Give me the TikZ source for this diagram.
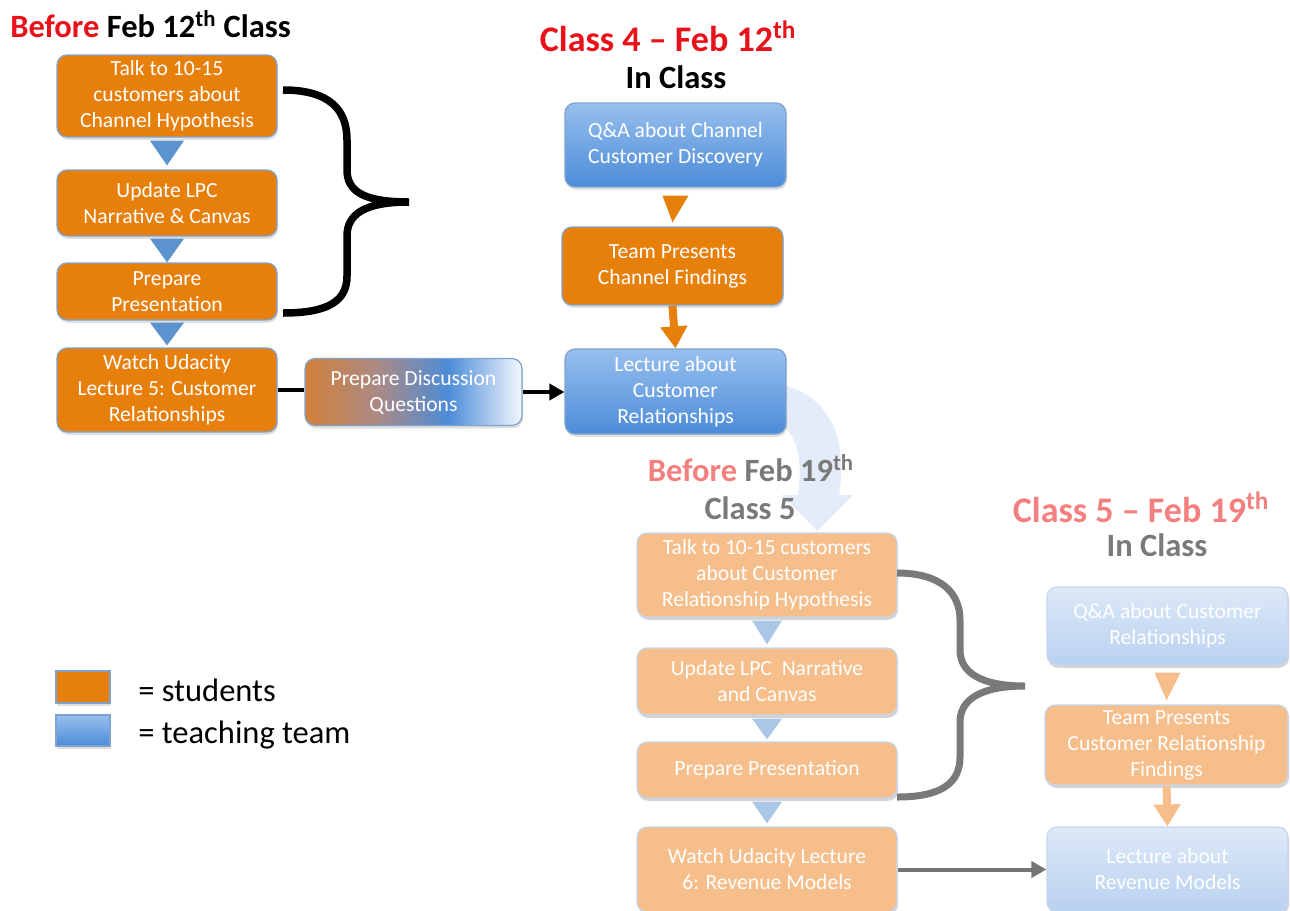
\documentclass[tikz,border=0pt]{standalone}
\usepackage{fontspec}
\setmainfont{Carlito}
\usetikzlibrary{arrows.meta,shadows,calc}

\definecolor{studorange}{HTML}{E77F0B}
\definecolor{studpale}{HTML}{F5BE8B}
\definecolor{teachtop}{HTML}{97BFEE}
\definecolor{teachbot}{HTML}{4C8CD8}
\definecolor{paletop}{HTML}{DDE9F8}
\definecolor{palebot}{HTML}{B9D1F0}
\definecolor{boxedge}{HTML}{7FA3CF}
\definecolor{paleedge}{HTML}{C5D7EE}
\definecolor{tribl}{HTML}{5B93CF}
\definecolor{tripale}{HTML}{ABC7E7}
\definecolor{titlered}{HTML}{E8131A}
\definecolor{titlepink}{HTML}{F47F7F}
\definecolor{titlegray}{HTML}{7A7A7A}
\definecolor{bigarrow}{HTML}{E3ECF8}
\definecolor{discorange}{HTML}{D2813A}
\definecolor{discmid}{HTML}{A98A86}
\definecolor{discwhite}{HTML}{F4F8FC}

\pgfdeclarehorizontalshading{discshade}{100bp}{color(0bp)=(discorange); color(25bp)=(discorange); color(42bp)=(discmid); color(58bp)=(teachbot); color(75bp)=(discwhite); color(100bp)=(discwhite)}

\newcommand\taskfont{\fontsize{12.3}{14.8}\selectfont}
\newcommand\headfont{\fontsize{18.5}{22}\selectfont\bfseries}

\tikzset{
  taskbox/.style={rounded corners=0.2cm, draw=boxedge, line width=0.7pt, text=white,
    align=center, font=\taskfont, inner sep=0pt,
    drop shadow={opacity=0.25, shadow xshift=0.6pt, shadow yshift=-1.6pt}},
  student/.style={taskbox, fill=studorange},
  teacher/.style={taskbox, top color=teachtop, bottom color=teachbot},
  palestudent/.style={taskbox, draw=paleedge, fill=studpale,
    drop shadow={opacity=0.12, shadow xshift=0.6pt, shadow yshift=-1.6pt}},
  paleteacher/.style={taskbox, draw=paleedge, top color=paletop, bottom color=palebot,
    drop shadow={opacity=0.12, shadow xshift=0.6pt, shadow yshift=-1.6pt}},
  heading/.style={font=\headfont, inner sep=0pt},
  bigheading/.style={heading, font=\fontsize{20.5}{24}\selectfont\bfseries},
  legendtext/.style={font=\fontsize{18.5}{22}\selectfont, anchor=west, inner sep=0pt},
  linkarrow/.style={line width=0.08cm, -{Triangle[width=0.32cm,length=0.3cm]}},
  bracket/.style={line width=0.15cm, line cap=butt},
}

\begin{document}
\begin{tikzpicture}[x=0.02cm,y=-0.02cm]
\useasboundingbox (0,0) rectangle (1290,910);

% pale arrow from class 4 to the next week
\fill [bigarrow] (786,386) .. controls (830,398) and (848,440) .. (839,495) -- (853,495) -- (817,531) -- (782,495) -- (798,495) .. controls (803,462) and (797,440) .. (786,428) -- cycle;

% headings
\node [heading, anchor=west] (hbefore) at (10,24) {\textcolor{titlered}{Before} Feb 12\textsuperscript{th} Class};
\node [bigheading, text=titlered] (hclass) at (668,36) {Class 4 – Feb 12\textsuperscript{th}};
\node [heading] (hin) at (676,77) {In Class};
\node [heading, text=titlegray] (hbefore2) at (751,468) {\textcolor{titlepink}{Before} Feb 19\textsuperscript{th}};
\node [heading, text=titlegray] (hclass5) at (750,508) {Class 5};
\node [bigheading, text=titlepink] (hclass2) at (1141,507) {Class 5 – Feb 19\textsuperscript{th}};
\node [heading, text=titlegray] (hin2) at (1157,545) {In Class};

% before feb 12
\node [student, minimum width=4.4cm, minimum height=1.64cm] (talk) at (167,96) {Talk to 10-15\\customers about\\Channel Hypothesis};
\node [student, minimum width=4.4cm, minimum height=1.32cm] (update) at (167,203) {Update LPC\\Narrative \& Canvas};
\node [student, minimum width=4.4cm, minimum height=1.14cm] (prep) at (167,291.5) {Prepare\\Presentation};
\node [student, minimum width=4.4cm, minimum height=1.68cm] (watch) at (167,390) {Watch Udacity\\Lecture 5: Customer\\Relationships};
\node [taskbox, shading=discshade, minimum width=4.34cm, minimum height=1.34cm] (disc) at (413.5,392) {Prepare Discussion\\Questions};

\fill [tribl] ($(talk.south)+(-17,3)$) -- ($(talk.south)+(17,3)$) -- ($(update.north)+(0,-4)$) -- cycle;
\fill [tribl] ($(update.south)+(-17,2)$) -- ($(update.south)+(17,2)$) -- (prep.north) -- cycle;
\fill [tribl] ($(prep.south)+(-17,2)$) -- ($(prep.south)+(17,2)$) -- ($(watch.north)+(0,-2)$) -- cycle;

\draw [line width=0.08cm] (watch.east) -- (watch.east -| disc.west);

% class 4
\node [teacher, minimum width=4.42cm, minimum height=1.68cm] (qa) at (675.5,145) {Q\&A about Channel\\Customer Discovery};
\node [student, minimum width=4.42cm, minimum height=1.56cm] (team) at (672.5,266) {Team Presents\\Channel Findings};
\node [teacher, minimum width=4.42cm, minimum height=1.70cm] (lect) at (675.5,391.5) {Lecture about\\Customer\\Relationships};

\fill [studorange] ($(qa.south)+(-13,8)$) -- ($(qa.south)+(13,8)$) -- ($(team.north)+(0,-4)$) -- cycle;
\draw [line width=0.16cm, studorange, -{Triangle[width=0.52cm,length=0.44cm]}] (team.south) -- (lect.north);
\draw [linkarrow] (disc.east) -- (disc.east -| lect.west);

\draw [bracket] (283,90) .. controls (330,90) and (347,110) .. (347,140) -- (347,170) .. controls (347,192) and (365,202) .. (409,202) .. controls (365,202) and (347,214) .. (347,236) -- (347,276) .. controls (347,300) and (330,313) .. (283,313);

% before feb 19
\node [palestudent, minimum width=5.2cm, minimum height=1.68cm] (talk2) at (767,575) {Talk to 10-15 customers\\about Customer\\Relationship Hypothesis};
\node [palestudent, minimum width=5.2cm, minimum height=1.34cm] (update2) at (767,681.5) {Update LPC~ Narrative\\and Canvas};
\node [palestudent, minimum width=5.2cm, minimum height=1.12cm] (prep2) at (767,770) {Prepare Presentation};
\node [palestudent, minimum width=5.2cm, minimum height=1.70cm] (watch2) at (767,869.5) {Watch Udacity Lecture\\6: Revenue Models};

\fill [tripale] ($(talk2.south)+(-15,3)$) -- ($(talk2.south)+(15,3)$) -- ($(update2.north)+(0,-3)$) -- cycle;
\fill [tripale] ($(update2.south)+(-15,3)$) -- ($(update2.south)+(15,3)$) -- ($(prep2.north)+(0,-2)$) -- cycle;
\fill [tripale] ($(prep2.south)+(-15,3)$) -- ($(prep2.south)+(15,3)$) -- ($(watch2.north)+(0,-3)$) -- cycle;

% class 5
\node [paleteacher, minimum width=4.82cm, minimum height=1.56cm] (qa2) at (1167.5,626) {Q\&A about Customer\\Relationships};
\node [palestudent, minimum width=4.86cm, minimum height=1.60cm] (team2) at (1166.5,745) {Team Presents\\Customer Relationship\\Findings};
\node [paleteacher, minimum width=4.82cm, minimum height=1.70cm] (lect2) at (1167.5,869.5) {Lecture about\\Revenue Models};

\fill [studpale] ($(qa2.south)+(-13,7)$) -- ($(qa2.south)+(13,7)$) -- ($(team2.north)+(0,-4)$) -- cycle;
\draw [line width=0.16cm, studpale, -{Triangle[width=0.52cm,length=0.44cm]}] (team2.south) -- (lect2.north);
\draw [linkarrow, titlegray!95!black] (watch2.east) -- (watch2.east -| lect2.west);

\draw [bracket, gray!95!black, line width=0.14cm] (897,573) .. controls (940,573) and (960,592) .. (960,620) -- (960,650) .. controls (960,672) and (980,686) .. (1025,686) .. controls (980,686) and (960,700) .. (960,722) -- (960,757) .. controls (960,784) and (940,797) .. (897,797);

% legend
\node [taskbox, rounded corners=0pt, fill=studorange, minimum width=1.08cm, minimum height=0.64cm] (keystud) at (83,687) {};
\node [taskbox, rounded corners=0pt, top color=teachtop, bottom color=teachbot, minimum width=1.08cm, minimum height=0.62cm] (keyteach) at (83,730.5) {};
\node [legendtext] (keystudtext) at (138,690) {= students};
\node [legendtext] (keyteachtext) at (138,735) {= teaching team};

\end{tikzpicture}
\end{document}
